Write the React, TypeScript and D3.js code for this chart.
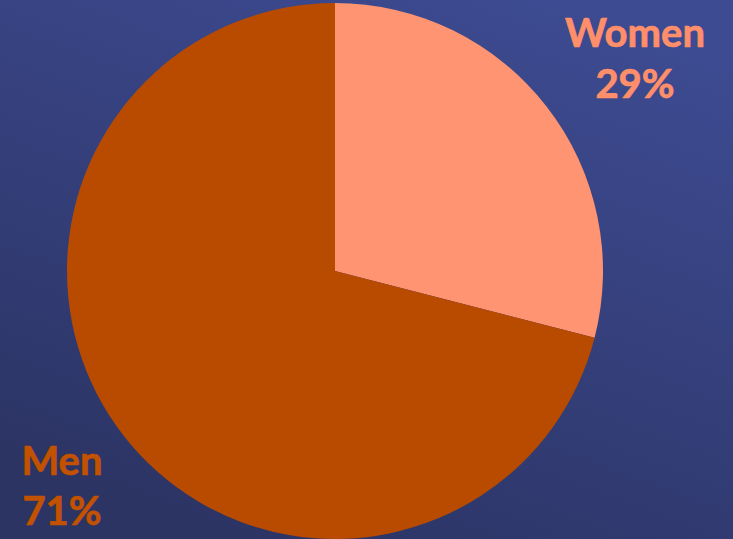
import React from "react";
import * as d3 from "d3";

const categories = ["Women", "Men"];
const values = [29, 71];
const sliceColors = ["#ff9473", "#b84b00"];
const labelColors = ["#ff8f6a", "#c25100"];

const W = 733;
const H = 539;

export default function App() {
  const cx = 335;
  const cy = 271;
  const r = 268;
  const pie = d3.pie<number>().sort(null).value((d) => d);
  const arcs = pie(values);
  const arc = d3.arc<d3.PieArcDatum<number>>().innerRadius(0).outerRadius(r);
  const labelPos = [
    { x: 635, y1: 47, y2: 98 },
    { x: 62, y1: 475, y2: 525 },
  ];
  return (
    <svg
      width={W}
      height={H}
      style={{ position: "absolute", left: 0, top: 0, display: "block" }}
    >
      <defs>
        <linearGradient id="bg" x1="0.8" y1="0" x2="0.3" y2="1">
          <stop offset="0" stopColor="#3d4b92" />
          <stop offset="1" stopColor="#2c3464" />
        </linearGradient>
      </defs>
      <rect x={0} y={0} width={W} height={H} fill="url(#bg)" />
      <g transform={`translate(${cx},${cy})`}>
        {arcs.map((a, i) => (
          <path key={categories[i]} d={arc(a) || ""} fill={sliceColors[i]} />
        ))}
      </g>
      {categories.map((c, i) => (
        <g key={c}>
          {[c, `${values[i]}%`].map((t, j) => (
            <text
              key={j}
              x={labelPos[i].x}
              y={j === 0 ? labelPos[i].y1 : labelPos[i].y2}
              textAnchor="middle"
              fontFamily="Lato, 'Open Sans', sans-serif"
              fontWeight="bold"
              fontSize={40}
              fill={labelColors[i]}
              stroke={labelColors[i]}
              strokeWidth={0.7}
            >
              {t}
            </text>
          ))}
        </g>
      ))}
    </svg>
  );
}
